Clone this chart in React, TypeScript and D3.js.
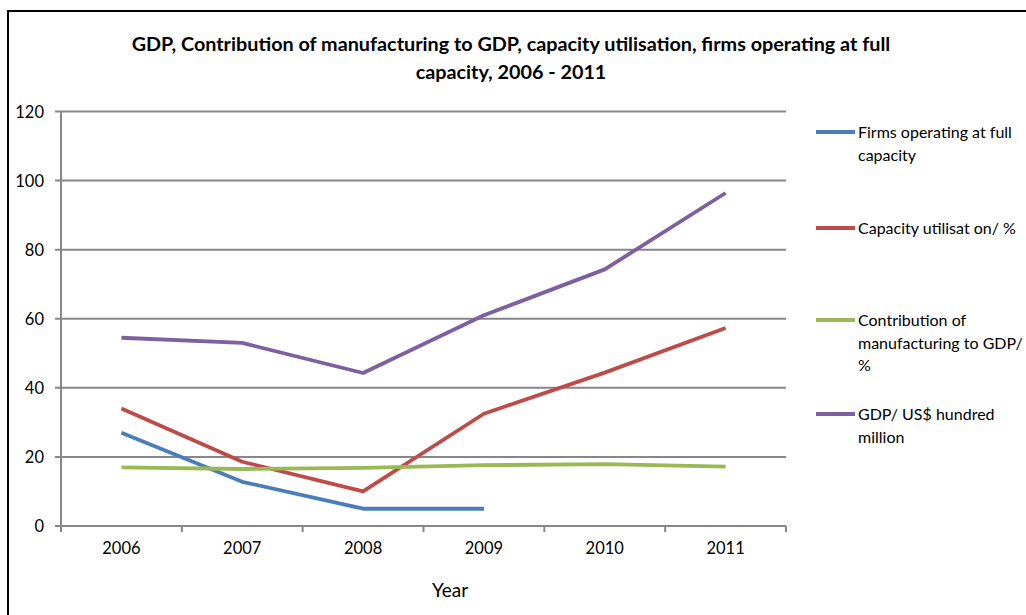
import React from 'react';
import * as d3 from 'd3';

const years = ['2006', '2007', '2008', '2009', '2010', '2011'];
const firmsFull: (number | null)[] = [27, 12.8, 5, 5, null, null];
const capacityUtil: (number | null)[] = [34, 18.6, 10, 32.5, 44.4, 57.3];
const manufContrib: (number | null)[] = [17, 16.5, 16.8, 17.6, 17.9, 17.2];
const gdpHundredMillion: (number | null)[] = [54.5, 53, 44.3, 61, 74.3, 96.4];
const yTicks = [0, 20, 40, 60, 80, 100, 120];

const series = [
  { name: ['Firms operating at full', 'capacity'], values: firmsFull, color: '#4A7EBB', ly: 132 },
  { name: ['Capacity utilisat on/ %'], values: capacityUtil, color: '#BE4B48', ly: 228 },
  { name: ['Contribution of', 'manufacturing to GDP/', '%'], values: manufContrib, color: '#98B954', ly: 320 },
  { name: ['GDP/ US$ hundred', 'million'], values: gdpHundredMillion, color: '#7D60A0', ly: 414 },
];

const W = 1026, H = 615;
const left = 61, right = 786, top = 111.5, bottom = 526;
const font = 'Lato, "Open Sans", sans-serif';

export default function App() {
  const x = d3.scaleBand<string>().domain(years).range([left, right]);
  const y = d3.scaleLinear().domain([0, 120]).range([bottom, top]);
  const line = d3
    .line<number | null>()
    .defined((d) => d !== null)
    .x((_, i) => (x(years[i]) as number) + x.bandwidth() / 2)
    .y((d) => y(d as number));
  const xTickPos = years.map((yr) => x(yr) as number).concat([right]);

  return (
    <div style={{ position: 'absolute', left: 0, top: 0 }}>
      <svg width={W} height={H} style={{ display: 'block', background: '#fff' }}>
        <rect x={8} y={11} width={W + 20} height={H + 20} fill="#fff" stroke="#000" strokeWidth={2} />
        <text x={511} y={51} textAnchor="middle" fontFamily={font} fontWeight="bold" fontSize={19.8} fill="#000">
          GDP, Contribution of manufacturing to GDP, capacity utilisation, firms operating at full
        </text>
        <text x={511} y={79} textAnchor="middle" fontFamily={font} fontWeight="bold" fontSize={19.8} fill="#000">
          capacity, 2006 - 2011
        </text>
        {yTicks.map((t) => (
          <g key={t}>
            <line x1={left - 6} x2={right} y1={y(t)} y2={y(t)} stroke="#878787" strokeWidth={2} />
            <text x={44} y={y(t) + 6} textAnchor="end" fontFamily={font} fontSize={16.5} fill="#000">
              {t}
            </text>
          </g>
        ))}
        <line x1={left} x2={left} y1={top} y2={bottom} stroke="#878787" strokeWidth={2} />
        {xTickPos.map((p, i) => (
          <line key={i} x1={p} x2={p} y1={bottom} y2={bottom + 6} stroke="#878787" strokeWidth={2} />
        ))}
        {years.map((yr) => (
          <text key={yr} x={(x(yr) as number) + x.bandwidth() / 2} y={554} textAnchor="middle" fontFamily={font} fontSize={16.5} fill="#000">
            {yr}
          </text>
        ))}
        <text x={450} y={597} textAnchor="middle" fontFamily={font} fontSize={19} fill="#000">
          Year
        </text>
        {series.map((s) => (
          <path key={s.color} d={line(s.values) || ''} fill="none" stroke={s.color} strokeWidth={3.8} strokeLinejoin="round" />
        ))}
        {series.map((s) => (
          <g key={'l' + s.color}>
            <line x1={816} x2={855} y1={s.ly} y2={s.ly} stroke={s.color} strokeWidth={3.8} />
            {s.name.map((n, i) => (
              <text key={i} x={858} y={s.ly + 6 + i * 22.5} fontFamily={font} fontSize={16} fill="#000">
                {n}
              </text>
            ))}
          </g>
        ))}
      </svg>
    </div>
  );
}
